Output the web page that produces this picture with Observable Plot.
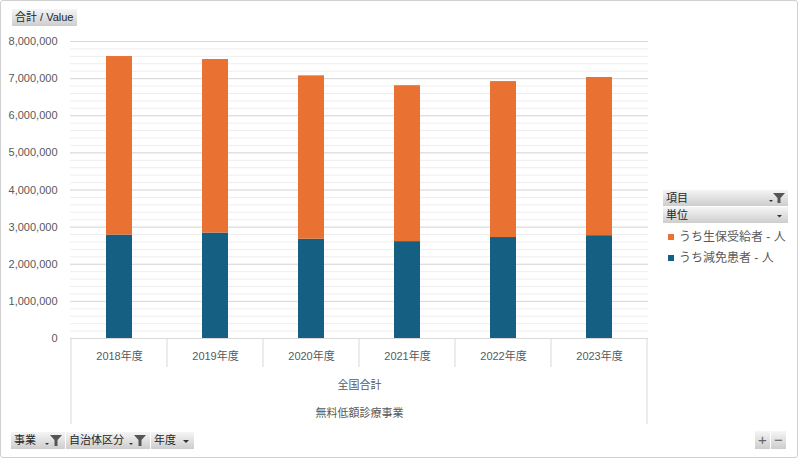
<!DOCTYPE html>
<html><head><meta charset="utf-8">
<script src="https://cdn.jsdelivr.net/npm/d3@7"></script>
<script src="https://cdn.jsdelivr.net/npm/@observablehq/plot@0.6"></script>
<style>
body{margin:0;background:#fff;}
#wrap{position:relative;width:798px;height:458px;overflow:hidden;font-family:"Liberation Sans","Noto Sans CJK JP",sans-serif;}
#chart{position:absolute;left:0;top:0;}
#frame{position:absolute;left:0;top:0;width:796px;height:456px;border:1px solid #d0d0d0;border-radius:3px;pointer-events:none;}
.btn{position:absolute;background:linear-gradient(#f5f5f5,#cdcdcd);color:#262626;font-size:11px;line-height:17px;height:17px;box-sizing:border-box;padding-left:3px;white-space:nowrap;}
.btn svg{position:absolute;top:3px;}
.leg{position:absolute;left:668px;font-size:12px;color:#595959;white-space:nowrap;line-height:14px;}
.leg i{display:inline-block;width:6px;height:6px;margin-right:5px;vertical-align:1px;}
</style></head>
<body>
<div id="wrap">
  <div id="chart"></div>
  <div class="btn" style="left:12px;top:9px;width:65px;">合計 / Value</div>
  <div class="btn" style="left:663px;top:190px;width:125px;height:16px;line-height:16px;">項目
    <svg style="left:104px;top:2px" width="20" height="12"><path d="M2 8 h4 l-2 2 z" fill="#333"/><path d="M6 1 h12 l-4.5 5 v5 h-3 v-5 z" fill="#555"/></svg></div>
  <div class="btn" style="left:663px;top:207px;width:125px;height:16px;line-height:16px;">単位
    <svg style="left:112px;top:2px" width="10" height="12"><path d="M2 6 h5 l-2.5 2.5 z" fill="#333"/></svg></div>
  <div class="leg" id="leg"></div>
  <div class="btn" style="left:11px;top:432px;width:54px;">事業
    <svg style="left:33px;top:2px" width="20" height="13"><path d="M1 9 h4 l-2 2 z" fill="#333"/><path d="M6 1 h12 l-4.5 5 v6 h-3 v-6 z" fill="#555"/></svg></div>
  <div class="btn" style="left:66px;top:432px;width:84px;">自治体区分
    <svg style="left:62px;top:2px" width="20" height="13"><path d="M1 9 h4 l-2 2 z" fill="#333"/><path d="M6 1 h12 l-4.5 5 v6 h-3 v-6 z" fill="#555"/></svg></div>
  <div class="btn" style="left:151px;top:432px;width:43px;">年度
    <svg style="left:30px;top:2px" width="10" height="13"><path d="M2 6 h6 l-3 3 z" fill="#333"/></svg></div>
  <div class="btn" style="left:755px;top:431px;width:15px;height:18px;padding:0;text-align:center;font-size:15px;color:#666;">+</div>
  <div class="btn" style="left:771px;top:431px;width:15px;height:18px;padding:0;text-align:center;font-size:15px;color:#666;">−</div>
  <div id="frame"></div>
</div>
<script>
const years = ["2018年度","2019年度","2020年度","2021年度","2022年度","2023年度"];
// うち減免患者 - 人 (bottom segment)
const genmen = [2785000, 2840000, 2675000, 2610000, 2720000, 2770000];
// うち生保受給者 - 人 (top segment)
const seiho = [4810000, 4675000, 4400000, 4200000, 4200000, 4260000];
const seriesNames = ["うち生保受給者 - 人", "うち減免患者 - 人"];
const seriesColors = ["#E97132", "#156082"];
const yTicks = [0, 1000000, 2000000, 3000000, 4000000, 5000000, 6000000, 7000000, 8000000];
const level1 = "全国合計";
const level2 = "無料低額診療事業";

const rows = [
  ...years.map((y, i) => ({year: y, series: seriesNames[1], value: genmen[i]})),
  ...years.map((y, i) => ({year: y, series: seriesNames[0], value: seiho[i]}))
];

const font = '"Liberation Sans","Noto Sans CJK JP",sans-serif';
const chart = Plot.plot({
  width: 798, height: 458,
  marginLeft: 70, marginRight: 150, marginTop: 41, marginBottom: 120,
  style: {fontFamily: font, fontSize: "11px", color: "#595959", background: "transparent"},
  x: {domain: years, paddingInner: 0.725, paddingOuter: 0.3625, axis: null},
  y: {domain: [0, 8000000], axis: null},
  color: {domain: seriesNames, range: seriesColors},
  marks: [
    Plot.gridY({ticks: 40, stroke: "#eeeeee", strokeOpacity: 1}),
    Plot.gridY(yTicks, {stroke: "#d9d9d9", strokeOpacity: 1}),
    Plot.axisY(yTicks, {tickSize: 0, tickPadding: 13, tickFormat: d3.format(","), fill: "#595959", fontSize: 11, label: null}),
    Plot.barY(rows, {x: "year", y: "value", fill: "series"}),
    Plot.ruleY([0], {stroke: "#d9d9d9"}),
    Plot.text(years, {x: d => d, frameAnchor: "bottom", dy: 21, fill: "#595959", fontSize: 11}),
    Plot.text([level1], {frameAnchor: "bottom", dy: 50, fill: "#595959", fontSize: 11}),
    Plot.text([level2], {frameAnchor: "bottom", dy: 78, fill: "#595959", fontSize: 11}),
    (index, scales, values, dims) => {
      const x = scales.x;
      const bw = x.bandwidth ? x.bandwidth() : 0;
      const step = x(years[1]) - x(years[0]);
      const y0 = dims.height - dims.marginBottom;
      const g = d3.create("svg:g").attr("stroke", "#d9d9d9").attr("fill", "none");
      years.forEach((yr, i) => {
        const b = x(yr) + bw / 2 - step / 2;
        g.append("line").attr("x1", b).attr("x2", b).attr("y1", y0).attr("y2", i === 0 ? y0 + 86 : y0 + 29);
      });
      const last = x(years[years.length - 1]) + bw / 2 + step / 2;
      g.append("line").attr("x1", last).attr("x2", last).attr("y1", y0).attr("y2", y0 + 86);
      return g.node();
    }
  ]
});
document.getElementById("chart").appendChild(chart);

const leg = document.getElementById("leg");
seriesNames.forEach((n, i) => {
  const d = document.createElement("div");
  d.style.position = "absolute";
  d.style.top = (i * 21) + "px";
  d.innerHTML = `<i style="background:${seriesColors[i]}"></i>${n}`;
  leg.appendChild(d);
});
leg.style.top = "230px";
</script>
</body></html>
